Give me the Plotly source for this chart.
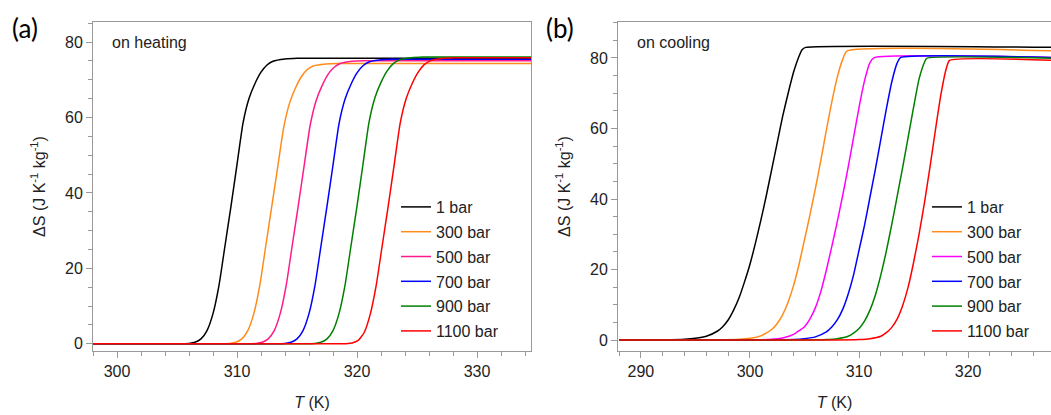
import plotly.graph_objects as go

# ---------------- data: panel (a) on heating ----------------
labels = ["1 bar", "300 bar", "500 bar", "700 bar", "900 bar", "1100 bar"]
colors_a = ["#000000", "#FF8C1A", "#FF1A8C", "#0000FF", "#008000", "#FF0000"]
colors_b = ["#000000", "#FF8C1A", "#FF00FF", "#0000FF", "#008000", "#FF0000"]

heat_T_1 = [298, 305, 306, 306.5, 307, 307.5, 308, 308.5, 309, 309.5, 310, 310.5, 311, 311.5, 312, 312.5, 313, 314, 315, 334.5]
heat_S_1 = [0, 0, 0.1, 0.4, 1.3, 3.5, 8, 15.5, 26, 36.5, 47.5, 58.5, 65, 69, 72, 73.9, 74.9, 75.5, 75.7, 75.7]
heat_T_300 = [298, 308.4, 309.4, 309.9, 310.4, 310.9, 311.4, 311.9, 312.4, 312.9, 313.4, 313.9, 314.4, 314.9, 315.4, 315.9, 316.4, 317.4, 318.4, 334.5]
heat_S_300 = [0, 0, 0.1, 0.4, 1.3, 3.5, 8, 15.5, 26, 36.5, 47, 57.5, 64, 68, 71, 72.8, 73.7, 74.2, 74.3, 74.3]
heat_T_500 = [298, 310.6, 311.6, 312.1, 312.6, 313.1, 313.6, 314.1, 314.6, 315.1, 315.6, 316.1, 316.6, 317.1, 317.6, 318.1, 318.6, 319.6, 320.6, 334.5]
heat_S_500 = [0, 0, 0.1, 0.4, 1.3, 3.5, 8, 15.5, 26, 36.5, 47.3, 58, 64.5, 68.5, 71.5, 73.3, 74.3, 74.9, 75.0, 75.0]
heat_T_700 = [298, 313, 314, 314.5, 315, 315.5, 316, 316.5, 317, 317.5, 318, 318.5, 319, 319.5, 320, 320.5, 321, 322, 323, 334.5]
heat_S_700 = [0, 0, 0.1, 0.4, 1.3, 3.5, 8, 15.5, 26, 36.5, 47.4, 58.3, 64.8, 68.8, 71.8, 73.7, 74.7, 75.3, 75.4, 75.4]
heat_T_900 = [298, 315.5, 316.5, 317, 317.5, 318, 318.5, 319, 319.5, 320, 320.5, 321, 321.5, 322, 322.5, 323, 323.5, 324.5, 325.5, 334.5]
heat_S_900 = [0, 0, 0.1, 0.4, 1.3, 3.5, 8, 15.5, 26, 36.5, 47.6, 58.7, 65.3, 69.3, 72.3, 74.2, 75.2, 75.8, 76.0, 76.0]
heat_T_1100 = [298, 318.1, 319.1, 319.6, 320.1, 320.6, 321.1, 321.6, 322.1, 322.6, 323.1, 323.6, 324.1, 324.6, 325.1, 325.6, 326.1, 327.1, 328.1, 334.5]
heat_S_1100 = [0, 0, 0.05, 0.2, 0.9, 3.0, 7.8, 15.5, 26, 36.5, 47.5, 58.5, 65, 69, 72, 74, 75, 75.6, 75.8, 75.8]

# ---------------- data: panel (b) on cooling ----------------
cool_T_1 = [288, 292, 294, 295, 296, 297, 297.5, 298, 298.5, 299, 299.5, 300, 300.5, 301, 301.5, 302, 302.5, 303, 303.5, 304, 304.5, 304.8, 305.1, 328]
cool_S_1 = [0, 0.05, 0.2, 0.5, 1.1, 2.5, 3.8, 5.7, 8.5, 12, 16.5, 21.5, 27.5, 34, 41, 48.5, 56, 63.5, 70, 76, 80.5, 82.4, 83.0, 83.0]
cool_T_300 = [288, 297, 299, 300, 301, 302, 302.5, 303, 303.5, 304, 304.5, 305, 305.5, 306, 306.5, 307, 307.5, 308, 308.5, 308.9, 328]
cool_S_300 = [0, 0.05, 0.2, 0.5, 1.2, 3.0, 4.7, 7.2, 10.8, 15.5, 21.5, 28.5, 35.5, 43, 51, 59.5, 67.5, 74.5, 79.6, 82, 82]
cool_T_500 = [288, 300, 302, 303, 304, 305, 305.5, 306, 306.5, 307, 307.5, 308, 308.5, 309, 309.5, 310, 310.5, 311, 311.4, 328]
cool_S_500 = [0, 0.05, 0.2, 0.6, 1.6, 3.8, 6, 9.2, 13.8, 19.8, 26.5, 33.5, 41, 49, 57.5, 66, 73.5, 78.7, 80.1, 80.1]
cool_T_700 = [288, 302, 304, 305, 306, 307, 307.5, 308, 308.5, 309, 309.5, 310, 310.5, 311, 311.5, 312, 312.5, 313, 313.5, 313.8, 328]
cool_S_700 = [0, 0.03, 0.15, 0.4, 0.9, 2.3, 3.7, 5.7, 8.7, 13, 18.5, 25.5, 32.5, 40.5, 48.5, 57, 65.5, 73.2, 78.6, 80.1, 80.1]
cool_T_900 = [288, 305, 307, 308, 309, 309.5, 310, 310.5, 311, 311.5, 312, 312.5, 313, 313.5, 314, 314.5, 315, 315.5, 316, 316.2, 328]
cool_S_900 = [0, 0.03, 0.15, 0.4, 1.1, 2.0, 3.3, 5.4, 8.5, 12.8, 18.5, 25.2, 32.8, 40.8, 49, 57.5, 66, 74, 78.8, 79.9, 79.9]
cool_T_1100 = [288, 308, 310, 311, 312, 312.5, 313, 313.5, 314, 314.5, 315, 315.5, 316, 316.5, 317, 317.5, 318, 318.3, 328]
cool_S_1100 = [0, 0.03, 0.15, 0.4, 1.1, 2.1, 3.6, 6, 9.8, 15, 22, 30, 39, 49, 59.5, 69.5, 77, 79.3, 79.3]

heat = [(heat_T_1, heat_S_1), (heat_T_300, heat_S_300), (heat_T_500, heat_S_500),
        (heat_T_700, heat_S_700), (heat_T_900, heat_S_900), (heat_T_1100, heat_S_1100)]
cool = [(cool_T_1, cool_S_1), (cool_T_300, cool_S_300), (cool_T_500, cool_S_500),
        (cool_T_700, cool_S_700), (cool_T_900, cool_S_900), (cool_T_1100, cool_S_1100)]

FONT = "Liberation Sans"
TXT = "#222222"
W, H = 1051, 415
PH = H - 22 - 64  # plot height in px

fig = go.Figure()
for i, (T, S) in enumerate(heat):
    fig.add_trace(go.Scatter(x=T, y=S, mode="lines", name=labels[i],
                             line=dict(color=colors_a[i], width=1.5, shape="spline", smoothing=0.5),
                             xaxis="x", yaxis="y", legend="legend", legendgroup="a%d" % i))
for i, (T, S) in enumerate(cool):
    fig.add_trace(go.Scatter(x=T, y=S, mode="lines", name=labels[i],
                             line=dict(color=colors_b[i], width=1.5, shape="spline", smoothing=0.5),
                             xaxis="x2", yaxis="y2", legend="legend2", legendgroup="b%d" % i))

axis_common = dict(showline=True, linecolor="#999999", linewidth=1, ticks="outside",
                   ticklen=6, tickcolor="#999999", tickwidth=1, showgrid=False, zeroline=False,
                   automargin=False,
                   tickfont=dict(family=FONT, size=16, color=TXT),
                   minor=dict(ticks="outside", ticklen=4, tickcolor="#999999", tickwidth=1, showgrid=False))

ytitle = "ΔS (J K<sup>-1</sup> kg<sup>-1</sup>)"
xtitle = "<i>T</i> (K)"
title_font = dict(family=FONT, size=16, color=TXT)

legend_common = dict(xanchor="left", yanchor="top", bgcolor="rgba(0,0,0,0)",
                     font=dict(family=FONT, size=16, color=TXT),
                     tracegroupgap=1, itemwidth=30, traceorder="grouped",
                     borderwidth=0)

fig.update_layout(
    width=W, height=H,
    margin=dict(l=0, r=0, t=22, b=64, autoexpand=False),
    paper_bgcolor="white", plot_bgcolor="white",
    showlegend=True,
    xaxis=dict(domain=[93 / W, 531 / W], range=[298, 334.5], dtick=10, mirror=True,
               title=dict(text=xtitle, font=title_font, standoff=17),
               anchor="y", **axis_common),
    yaxis=dict(domain=[0, 1], range=[-1.9, 85.3], tickvals=[0, 20, 40, 60, 80], mirror=True,
               title=dict(text=ytitle, font=title_font, standoff=15),
               anchor="x", **axis_common),
    xaxis2=dict(domain=[618 / W, 1.0], range=[287.9, 327.6], dtick=10, mirror=True,
                title=dict(text=xtitle, font=title_font, standoff=17),
                anchor="y2", **axis_common),
    yaxis2=dict(domain=[0, 1], range=[-3.1, 90.2], tickvals=[0, 20, 40, 60, 80], mirror=False,
                title=dict(text=ytitle, font=title_font, standoff=15),
                anchor="x2", **axis_common),
    legend=dict(x=396 / W, y=1 - (190 - 22) / PH, **legend_common),
    legend2=dict(x=927 / W, y=1 - (190 - 22) / PH, **legend_common),
    annotations=[
        dict(text="(a)", x=10 / W, y=1.0 - 6 / PH, xref="paper", yref="paper", xanchor="left", yanchor="middle",
             showarrow=False, font=dict(family="Lato", size=26, color="#000000")),
        dict(text="(b)", x=544 / W, y=1.0 - 6 / PH, xref="paper", yref="paper", xanchor="left", yanchor="middle",
             showarrow=False, font=dict(family="Lato", size=26, color="#000000")),
        dict(text="on heating", x=110 / W, y=1 - (42 - 22) / PH, xref="paper", yref="paper",
             xanchor="left", yanchor="middle", showarrow=False, font=dict(family=FONT, size=16, color=TXT)),
        dict(text="on cooling", x=635 / W, y=1 - (42 - 22) / PH, xref="paper", yref="paper",
             xanchor="left", yanchor="middle", showarrow=False, font=dict(family=FONT, size=16, color=TXT)),
    ],
)

fig.write_html("out.html", config={"displayModeBar": False},
               post_script="document.body.style.margin='0px';document.body.style.overflow='hidden';")
